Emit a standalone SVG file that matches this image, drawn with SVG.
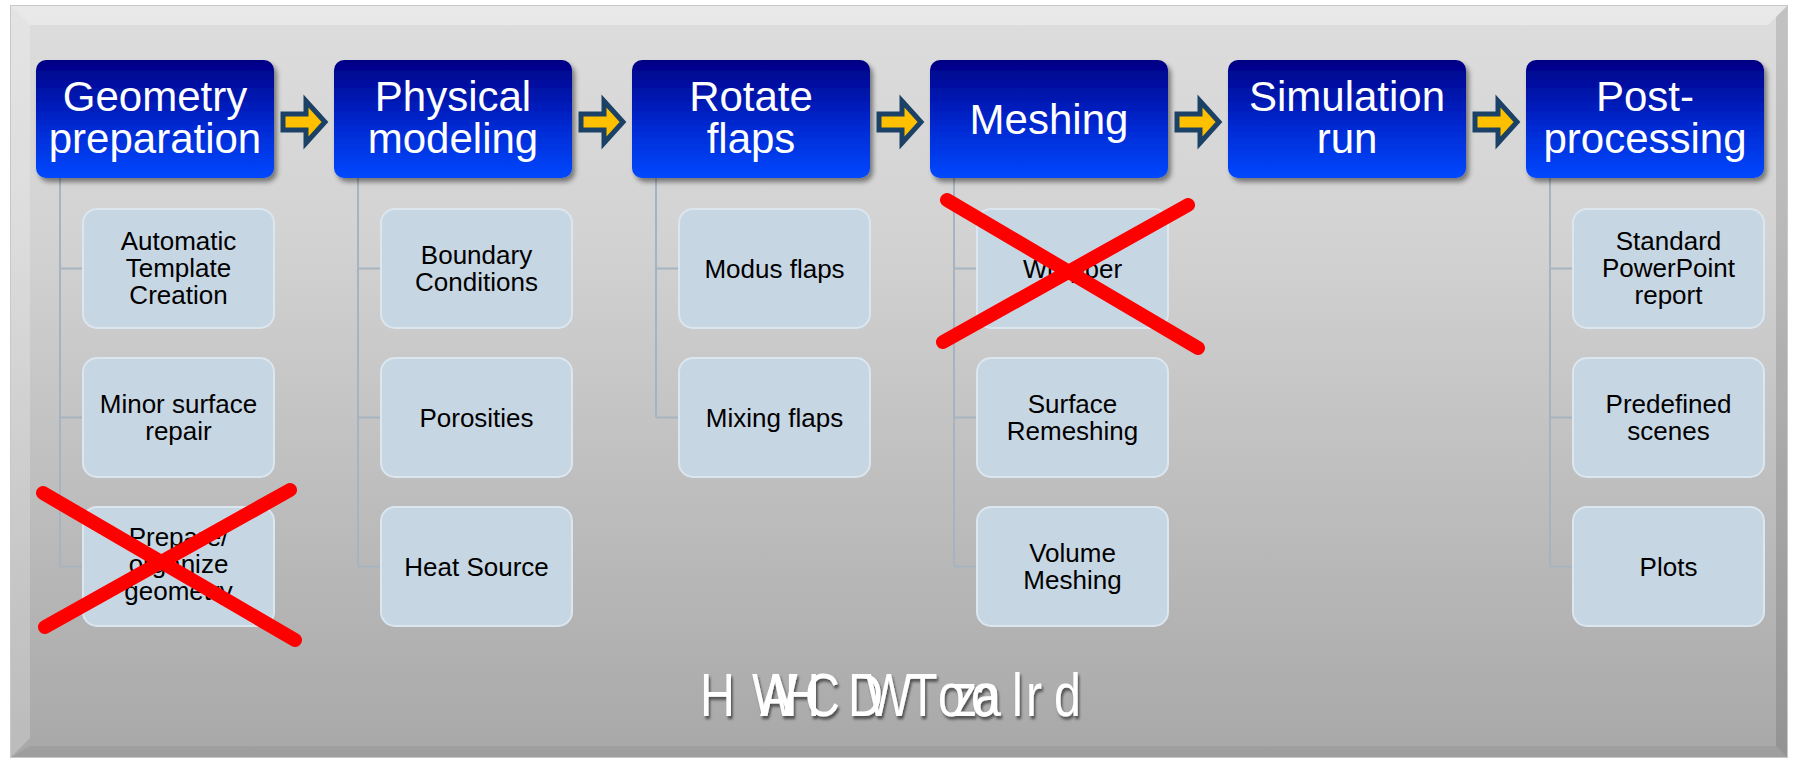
<svg xmlns="http://www.w3.org/2000/svg" width="1797" height="763" viewBox="0 0 1797 763">
<defs>
<linearGradient id="panelG" x1="0" y1="0" x2="0" y2="1">
<stop offset="0" stop-color="#dddddd"/>
<stop offset="0.3" stop-color="#d3d3d3"/>
<stop offset="1" stop-color="#a8a8a8"/>
</linearGradient>
<linearGradient id="blueG" x1="0" y1="0" x2="0" y2="1">
<stop offset="0" stop-color="#000084"/>
<stop offset="0.55" stop-color="#0028d0"/>
<stop offset="1" stop-color="#0048ff"/>
</linearGradient>
<filter id="sh" x="-10%" y="-10%" width="130%" height="140%">
<feDropShadow dx="3" dy="4" stdDeviation="2.5" flood-color="#000" flood-opacity="0.45"/>
</filter>
<filter id="tsh" x="-5%" y="-20%" width="110%" height="150%">
<feDropShadow dx="2" dy="3" stdDeviation="1.5" flood-color="#000" flood-opacity="0.55"/>
</filter>
</defs>
<style>
.head{fill:url(#blueG);filter:url(#sh)}
.ht{font-family:"Liberation Sans",Arial,sans-serif;font-size:42px;fill:#ffffff;text-anchor:middle}
.sub{fill:#c7d6e3;stroke:#dbe6ef;stroke-width:2}
.st{font-family:"Liberation Sans",Arial,sans-serif;font-size:26px;fill:#000000;text-anchor:middle}
.con{fill:none;stroke:#a6b3c0;stroke-width:2}
.arr{fill:#ffc000;stroke:#1b4266;stroke-width:5;stroke-linejoin:miter}
.x{stroke:#ff0000;stroke-width:14;stroke-linecap:round;fill:none}
.big{font-family:"Liberation Sans",Arial,sans-serif;font-size:62px;fill:#ffffff;filter:url(#tsh)}
</style>
<rect width="1797" height="763" fill="#ffffff"/>
<g id="panel">
<rect x="10" y="5" width="1778" height="753" fill="url(#panelG)"/>
<polygon points="10,5 1788,5 1768,25 30,25" fill="#ffffff" opacity="0.35"/>
<polygon points="10,5 30,25 30,738 10,758" fill="#ffffff" opacity="0.22"/>
<polygon points="1788,5 1788,758 1776,746 1776,17" fill="#000000" opacity="0.12"/>
<polygon points="10,758 1788,758 1776,746 30,746" fill="#000000" opacity="0.06"/>
<rect x="10.5" y="5.5" width="1777" height="752" fill="none" stroke="#c8c8c8" stroke-width="1"/>
</g>
<g id="connectors">
<path class="con" d="M60,178 V566.5 M60,268.5 H83 M60,417.5 H83 M60,566.5 H83"/>
<path class="con" d="M358,178 V566.5 M358,268.5 H381 M358,417.5 H381 M358,566.5 H381"/>
<path class="con" d="M656,178 V417.5 M656,268.5 H679 M656,417.5 H679"/>
<path class="con" d="M954,178 V566.5 M954,268.5 H977 M954,417.5 H977 M954,566.5 H977"/>
<path class="con" d="M1550,178 V566.5 M1550,268.5 H1573 M1550,417.5 H1573 M1550,566.5 H1573"/>
<path class="arr" d="M283,114 H306 V101 L325,122 L306,143 V130 H283 Z"/>
<path class="arr" d="M581,114 H604 V101 L623,122 L604,143 V130 H581 Z"/>
<path class="arr" d="M879,114 H902 V101 L921,122 L902,143 V130 H879 Z"/>
<path class="arr" d="M1177,114 H1200 V101 L1219,122 L1200,143 V130 H1177 Z"/>
<path class="arr" d="M1475,114 H1498 V101 L1517,122 L1498,143 V130 H1475 Z"/>
</g>
<g id="geometry-preparation">
<rect class="head" x="36" y="60" width="238" height="118" rx="10"/>
<text class="ht" x="155" y="111">Geometry</text>
<text class="ht" x="155" y="153">preparation</text>
</g>
<g id="automatic-template">
<rect class="sub" x="83" y="209" width="191" height="119" rx="14"/>
<text class="st" x="178.5" y="250">Automatic</text>
<text class="st" x="178.5" y="277">Template</text>
<text class="st" x="178.5" y="304">Creation</text>
</g>
<g id="minor-surface">
<rect class="sub" x="83" y="358" width="191" height="119" rx="14"/>
<text class="st" x="178.5" y="413">Minor surface</text>
<text class="st" x="178.5" y="440">repair</text>
</g>
<g id="prepare-organize">
<rect class="sub" x="83" y="507" width="191" height="119" rx="14"/>
<text class="st" x="178.5" y="546">Prepare/</text>
<text class="st" x="178.5" y="573">organize</text>
<text class="st" x="178.5" y="600">geometry</text>
</g>
<g id="physical-modeling">
<rect class="head" x="334" y="60" width="238" height="118" rx="10"/>
<text class="ht" x="453" y="111">Physical</text>
<text class="ht" x="453" y="153">modeling</text>
</g>
<g id="boundary-conditions">
<rect class="sub" x="381" y="209" width="191" height="119" rx="14"/>
<text class="st" x="476.5" y="264">Boundary</text>
<text class="st" x="476.5" y="291">Conditions</text>
</g>
<g id="porosities">
<rect class="sub" x="381" y="358" width="191" height="119" rx="14"/>
<text class="st" x="476.5" y="427">Porosities</text>
</g>
<g id="heat-source">
<rect class="sub" x="381" y="507" width="191" height="119" rx="14"/>
<text class="st" x="476.5" y="576">Heat Source</text>
</g>
<g id="rotate-flaps">
<rect class="head" x="632" y="60" width="238" height="118" rx="10"/>
<text class="ht" x="751" y="111">Rotate</text>
<text class="ht" x="751" y="153">flaps</text>
</g>
<g id="modus-flaps">
<rect class="sub" x="679" y="209" width="191" height="119" rx="14"/>
<text class="st" x="774.5" y="278">Modus flaps</text>
</g>
<g id="mixing-flaps">
<rect class="sub" x="679" y="358" width="191" height="119" rx="14"/>
<text class="st" x="774.5" y="427">Mixing flaps</text>
</g>
<g id="meshing">
<rect class="head" x="930" y="60" width="238" height="118" rx="10"/>
<text class="ht" x="1049" y="134">Meshing</text>
</g>
<g id="wrapper">
<rect class="sub" x="977" y="209" width="191" height="119" rx="14"/>
<text class="st" x="1072.5" y="278">Wrapper</text>
</g>
<g id="surface-remeshing">
<rect class="sub" x="977" y="358" width="191" height="119" rx="14"/>
<text class="st" x="1072.5" y="413">Surface</text>
<text class="st" x="1072.5" y="440">Remeshing</text>
</g>
<g id="volume-meshing">
<rect class="sub" x="977" y="507" width="191" height="119" rx="14"/>
<text class="st" x="1072.5" y="562">Volume</text>
<text class="st" x="1072.5" y="589">Meshing</text>
</g>
<g id="simulation-run">
<rect class="head" x="1228" y="60" width="238" height="118" rx="10"/>
<text class="ht" x="1347" y="111">Simulation</text>
<text class="ht" x="1347" y="153">run</text>
</g>
<g id="post-processing">
<rect class="head" x="1526" y="60" width="238" height="118" rx="10"/>
<text class="ht" x="1645" y="111">Post-</text>
<text class="ht" x="1645" y="153">processing</text>
</g>
<g id="standard-report">
<rect class="sub" x="1573" y="209" width="191" height="119" rx="14"/>
<text class="st" x="1668.5" y="250">Standard</text>
<text class="st" x="1668.5" y="277">PowerPoint</text>
<text class="st" x="1668.5" y="304">report</text>
</g>
<g id="predefined-scenes">
<rect class="sub" x="1573" y="358" width="191" height="119" rx="14"/>
<text class="st" x="1668.5" y="413">Predefined</text>
<text class="st" x="1668.5" y="440">scenes</text>
</g>
<g id="plots">
<rect class="sub" x="1573" y="507" width="191" height="119" rx="14"/>
<text class="st" x="1668.5" y="576">Plots</text>
</g>
<g id="crosses">
<path class="x" d="M43,493 L295,640 M45,627 L290,490"/>
<path class="x" d="M947,200 L1198,348 M943,342 L1188,205"/>
</g>
<g id="footer">
<text class="big" transform="scale(0.78,1)" y="716" x="897.4 964.1 974.4 1006.4 1032 1087.2 1110.3 1164.1 1202.6 1221.8 1244.9 1248.7 1297.4 1315.4 1351.3">HWAHCDWTozoalrd</text>
</g>
</svg>
